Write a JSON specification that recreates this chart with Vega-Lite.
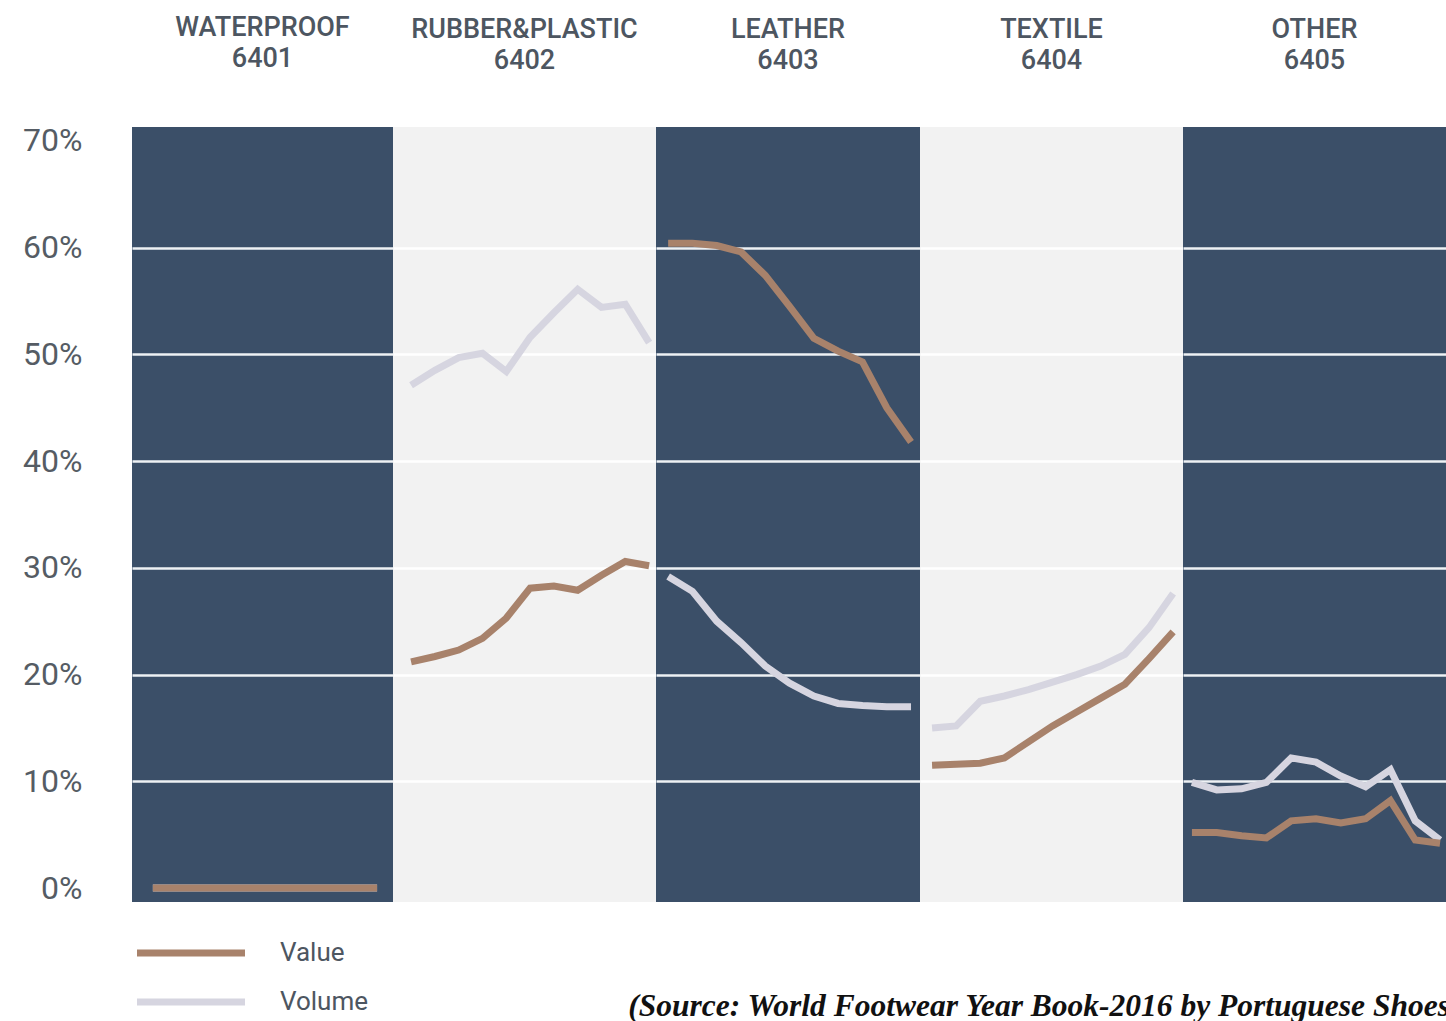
{
  "$schema": "https://vega.github.io/schema/vega-lite/v6.json",
  "background": "#ffffff",
  "padding": {"left": 0, "top": 13, "right": 0, "bottom": 0},
  "spacing": 0,
  "bounds": "flush",
  "datasets": {
    "shoes": [
      {"category": "WATERPROOF", "series": "Volume", "year": 2005, "share": 0},
      {"category": "WATERPROOF", "series": "Volume", "year": 2015, "share": 0},
      {"category": "WATERPROOF", "series": "Value", "year": 2005, "share": 0},
      {"category": "WATERPROOF", "series": "Value", "year": 2006, "share": 0},
      {"category": "WATERPROOF", "series": "Value", "year": 2007, "share": 0},
      {"category": "WATERPROOF", "series": "Value", "year": 2008, "share": 0},
      {"category": "WATERPROOF", "series": "Value", "year": 2009, "share": 0},
      {"category": "WATERPROOF", "series": "Value", "year": 2010, "share": 0},
      {"category": "WATERPROOF", "series": "Value", "year": 2011, "share": 0},
      {"category": "WATERPROOF", "series": "Value", "year": 2012, "share": 0},
      {"category": "WATERPROOF", "series": "Value", "year": 2013, "share": 0},
      {"category": "WATERPROOF", "series": "Value", "year": 2014, "share": 0},
      {"category": "WATERPROOF", "series": "Value", "year": 2015, "share": 0},

      {"category": "RUBBER&PLASTIC", "series": "Volume", "year": 2005, "share": 0.471},
      {"category": "RUBBER&PLASTIC", "series": "Volume", "year": 2006, "share": 0.485},
      {"category": "RUBBER&PLASTIC", "series": "Volume", "year": 2007, "share": 0.497},
      {"category": "RUBBER&PLASTIC", "series": "Volume", "year": 2008, "share": 0.501},
      {"category": "RUBBER&PLASTIC", "series": "Volume", "year": 2009, "share": 0.484},
      {"category": "RUBBER&PLASTIC", "series": "Volume", "year": 2010, "share": 0.516},
      {"category": "RUBBER&PLASTIC", "series": "Volume", "year": 2011, "share": 0.539},
      {"category": "RUBBER&PLASTIC", "series": "Volume", "year": 2012, "share": 0.561},
      {"category": "RUBBER&PLASTIC", "series": "Volume", "year": 2013, "share": 0.544},
      {"category": "RUBBER&PLASTIC", "series": "Volume", "year": 2014, "share": 0.547},
      {"category": "RUBBER&PLASTIC", "series": "Volume", "year": 2015, "share": 0.511},
      {"category": "RUBBER&PLASTIC", "series": "Value", "year": 2005, "share": 0.212},
      {"category": "RUBBER&PLASTIC", "series": "Value", "year": 2006, "share": 0.217},
      {"category": "RUBBER&PLASTIC", "series": "Value", "year": 2007, "share": 0.223},
      {"category": "RUBBER&PLASTIC", "series": "Value", "year": 2008, "share": 0.234},
      {"category": "RUBBER&PLASTIC", "series": "Value", "year": 2009, "share": 0.253},
      {"category": "RUBBER&PLASTIC", "series": "Value", "year": 2010, "share": 0.281},
      {"category": "RUBBER&PLASTIC", "series": "Value", "year": 2011, "share": 0.283},
      {"category": "RUBBER&PLASTIC", "series": "Value", "year": 2012, "share": 0.279},
      {"category": "RUBBER&PLASTIC", "series": "Value", "year": 2013, "share": 0.293},
      {"category": "RUBBER&PLASTIC", "series": "Value", "year": 2014, "share": 0.306},
      {"category": "RUBBER&PLASTIC", "series": "Value", "year": 2015, "share": 0.302},

      {"category": "LEATHER", "series": "Volume", "year": 2005, "share": 0.292},
      {"category": "LEATHER", "series": "Volume", "year": 2006, "share": 0.278},
      {"category": "LEATHER", "series": "Volume", "year": 2007, "share": 0.250},
      {"category": "LEATHER", "series": "Volume", "year": 2008, "share": 0.230},
      {"category": "LEATHER", "series": "Volume", "year": 2009, "share": 0.208},
      {"category": "LEATHER", "series": "Volume", "year": 2010, "share": 0.192},
      {"category": "LEATHER", "series": "Volume", "year": 2011, "share": 0.180},
      {"category": "LEATHER", "series": "Volume", "year": 2012, "share": 0.173},
      {"category": "LEATHER", "series": "Volume", "year": 2013, "share": 0.171},
      {"category": "LEATHER", "series": "Volume", "year": 2014, "share": 0.170},
      {"category": "LEATHER", "series": "Volume", "year": 2015, "share": 0.170},
      {"category": "LEATHER", "series": "Value", "year": 2005, "share": 0.604},
      {"category": "LEATHER", "series": "Value", "year": 2006, "share": 0.604},
      {"category": "LEATHER", "series": "Value", "year": 2007, "share": 0.602},
      {"category": "LEATHER", "series": "Value", "year": 2008, "share": 0.596},
      {"category": "LEATHER", "series": "Value", "year": 2009, "share": 0.574},
      {"category": "LEATHER", "series": "Value", "year": 2010, "share": 0.545},
      {"category": "LEATHER", "series": "Value", "year": 2011, "share": 0.515},
      {"category": "LEATHER", "series": "Value", "year": 2012, "share": 0.503},
      {"category": "LEATHER", "series": "Value", "year": 2013, "share": 0.493},
      {"category": "LEATHER", "series": "Value", "year": 2014, "share": 0.450},
      {"category": "LEATHER", "series": "Value", "year": 2015, "share": 0.418},

      {"category": "TEXTILE", "series": "Volume", "year": 2005, "share": 0.150},
      {"category": "TEXTILE", "series": "Volume", "year": 2006, "share": 0.152},
      {"category": "TEXTILE", "series": "Volume", "year": 2007, "share": 0.175},
      {"category": "TEXTILE", "series": "Volume", "year": 2008, "share": 0.180},
      {"category": "TEXTILE", "series": "Volume", "year": 2009, "share": 0.186},
      {"category": "TEXTILE", "series": "Volume", "year": 2010, "share": 0.193},
      {"category": "TEXTILE", "series": "Volume", "year": 2011, "share": 0.200},
      {"category": "TEXTILE", "series": "Volume", "year": 2012, "share": 0.208},
      {"category": "TEXTILE", "series": "Volume", "year": 2013, "share": 0.219},
      {"category": "TEXTILE", "series": "Volume", "year": 2014, "share": 0.244},
      {"category": "TEXTILE", "series": "Volume", "year": 2015, "share": 0.276},
      {"category": "TEXTILE", "series": "Value", "year": 2005, "share": 0.115},
      {"category": "TEXTILE", "series": "Value", "year": 2006, "share": 0.116},
      {"category": "TEXTILE", "series": "Value", "year": 2007, "share": 0.117},
      {"category": "TEXTILE", "series": "Value", "year": 2008, "share": 0.122},
      {"category": "TEXTILE", "series": "Value", "year": 2009, "share": 0.137},
      {"category": "TEXTILE", "series": "Value", "year": 2010, "share": 0.152},
      {"category": "TEXTILE", "series": "Value", "year": 2011, "share": 0.165},
      {"category": "TEXTILE", "series": "Value", "year": 2012, "share": 0.178},
      {"category": "TEXTILE", "series": "Value", "year": 2013, "share": 0.191},
      {"category": "TEXTILE", "series": "Value", "year": 2014, "share": 0.215},
      {"category": "TEXTILE", "series": "Value", "year": 2015, "share": 0.240},

      {"category": "OTHER", "series": "Volume", "year": 2005, "share": 0.099},
      {"category": "OTHER", "series": "Volume", "year": 2006, "share": 0.092},
      {"category": "OTHER", "series": "Volume", "year": 2007, "share": 0.093},
      {"category": "OTHER", "series": "Volume", "year": 2008, "share": 0.099},
      {"category": "OTHER", "series": "Volume", "year": 2009, "share": 0.122},
      {"category": "OTHER", "series": "Volume", "year": 2010, "share": 0.118},
      {"category": "OTHER", "series": "Volume", "year": 2011, "share": 0.105},
      {"category": "OTHER", "series": "Volume", "year": 2012, "share": 0.095},
      {"category": "OTHER", "series": "Volume", "year": 2013, "share": 0.111},
      {"category": "OTHER", "series": "Volume", "year": 2014, "share": 0.063},
      {"category": "OTHER", "series": "Volume", "year": 2015, "share": 0.045},
      {"category": "OTHER", "series": "Value", "year": 2005, "share": 0.052},
      {"category": "OTHER", "series": "Value", "year": 2006, "share": 0.052},
      {"category": "OTHER", "series": "Value", "year": 2007, "share": 0.049},
      {"category": "OTHER", "series": "Value", "year": 2008, "share": 0.047},
      {"category": "OTHER", "series": "Value", "year": 2009, "share": 0.063},
      {"category": "OTHER", "series": "Value", "year": 2010, "share": 0.065},
      {"category": "OTHER", "series": "Value", "year": 2011, "share": 0.061},
      {"category": "OTHER", "series": "Value", "year": 2012, "share": 0.065},
      {"category": "OTHER", "series": "Value", "year": 2013, "share": 0.082},
      {"category": "OTHER", "series": "Value", "year": 2014, "share": 0.045},
      {"category": "OTHER", "series": "Value", "year": 2015, "share": 0.042}
    ],
    "sourcenote": [
      {"note": "(Source: World Footwear Year Book-2016 by Portuguese Shoes"}
    ]
  },
  "resolve": {"scale": {"x": "independent", "y": "independent", "color": "independent"}, "legend": {"color": "independent"}},
  "hconcat": [
    {
      "width": 261, "height": 775,
      "view": {"fill": "#3b4f68", "stroke": null},
      "title": {"text": ["WATERPROOF", "6401"]},
      "data": {"name": "shoes"},
      "transform": [{"filter": "datum.category == 'WATERPROOF'"}],
      "encoding": {
        "x": {"field": "year", "type": "quantitative", "scale": {"domain": [2004.07, 2015.71], "nice": false, "zero": false}, "axis": null},
        "y": {"field": "share", "type": "quantitative", "scale": {"domain": [-0.013, 0.713], "nice": false, "zero": false},
          "axis": {"values": [0, 0.1, 0.2, 0.3, 0.4, 0.5, 0.6, 0.7], "format": ".0%", "title": null, "ticks": false, "domain": false,
            "labelFont": "Roboto", "labelFontSize": 32, "labelColor": "#555c64", "labelPadding": 50, "minExtent": 132, "maxExtent": 132,
            "grid": true, "gridColor": "#eef1f4", "gridWidth": 2.5,
            "gridOpacity": {"condition": {"test": "datum.value < 0.05 || datum.value > 0.65", "value": 0}, "value": 1}}},
        "color": {"field": "series", "type": "nominal", "scale": {"domain": ["Value", "Volume"], "range": ["#a8826b", "#d6d5e0"]},
          "legend": {"orient": "none", "legendX": 42, "legendY": 809, "direction": "vertical", "title": null,
            "symbolType": "M-4,0H4", "symbolSize": 729, "symbolStrokeWidth": 7,
            "labelFont": "Roboto", "labelFontSize": 26, "labelColor": "#4d5661", "labelOffset": 72, "rowPadding": 18}}
      },
      "layer": [
        {"transform": [{"filter": "datum.series == 'Volume'"}], "mark": {"type": "line", "strokeWidth": 7, "strokeCap": "butt"}},
        {"transform": [{"filter": "datum.series == 'Value'"}], "mark": {"type": "line", "strokeWidth": 7, "strokeCap": "butt"}}
      ]
    },
    {
      "width": 263, "height": 775,
      "view": {"fill": "#f2f2f2", "stroke": null},
      "title": {"text": ["RUBBER&PLASTIC", "6402"]},
      "data": {"name": "shoes"},
      "transform": [{"filter": "datum.category == 'RUBBER&PLASTIC'"}],
      "encoding": {
        "x": {"field": "year", "type": "quantitative", "scale": {"domain": [2004.24, 2015.29], "nice": false, "zero": false}, "axis": null},
        "y": {"field": "share", "type": "quantitative", "scale": {"domain": [-0.013, 0.713], "nice": false, "zero": false},
          "axis": {"values": [0.1, 0.2, 0.3, 0.4, 0.5, 0.6], "labels": false, "title": null, "ticks": false, "domain": false, "minExtent": 0, "maxExtent": 0,
            "grid": true, "gridColor": "#ffffff", "gridWidth": 2.5}},
        "color": {"field": "series", "type": "nominal", "scale": {"domain": ["Value", "Volume"], "range": ["#a8826b", "#d6d5e0"]}, "legend": null}
      },
      "layer": [
        {"transform": [{"filter": "datum.series == 'Volume'"}], "mark": {"type": "line", "strokeWidth": 7, "strokeCap": "butt"}},
        {"transform": [{"filter": "datum.series == 'Value'"}], "mark": {"type": "line", "strokeWidth": 7, "strokeCap": "butt"}}
      ]
    },
    {
      "width": 264, "height": 775,
      "view": {"fill": "#3b4f68", "stroke": null},
      "title": {"text": ["LEATHER", "6403"]},
      "data": {"name": "shoes"},
      "transform": [{"filter": "datum.category == 'LEATHER'"}],
      "encoding": {
        "x": {"field": "year", "type": "quantitative", "scale": {"domain": [2004.5, 2015.37], "nice": false, "zero": false}, "axis": null},
        "y": {"field": "share", "type": "quantitative", "scale": {"domain": [-0.013, 0.713], "nice": false, "zero": false},
          "axis": {"values": [0.1, 0.2, 0.3, 0.4, 0.5, 0.6], "labels": false, "title": null, "ticks": false, "domain": false, "minExtent": 0, "maxExtent": 0,
            "grid": true, "gridColor": "#eef1f4", "gridWidth": 2.5}},
        "color": {"field": "series", "type": "nominal", "scale": {"domain": ["Value", "Volume"], "range": ["#a8826b", "#d6d5e0"]}, "legend": null}
      },
      "layer": [
        {"transform": [{"filter": "datum.series == 'Volume'"}], "mark": {"type": "line", "strokeWidth": 7, "strokeCap": "butt"}},
        {"transform": [{"filter": "datum.series == 'Value'"}], "mark": {"type": "line", "strokeWidth": 7, "strokeCap": "butt"}}
      ]
    },
    {
      "width": 263, "height": 775,
      "view": {"fill": "#f2f2f2", "stroke": null},
      "title": {"text": ["TEXTILE", "6404"]},
      "data": {"name": "shoes"},
      "transform": [{"filter": "datum.category == 'TEXTILE'"}],
      "encoding": {
        "x": {"field": "year", "type": "quantitative", "scale": {"domain": [2004.5, 2015.41], "nice": false, "zero": false}, "axis": null},
        "y": {"field": "share", "type": "quantitative", "scale": {"domain": [-0.013, 0.713], "nice": false, "zero": false},
          "axis": {"values": [0.1, 0.2, 0.3, 0.4, 0.5, 0.6], "labels": false, "title": null, "ticks": false, "domain": false, "minExtent": 0, "maxExtent": 0,
            "grid": true, "gridColor": "#ffffff", "gridWidth": 2.5}},
        "color": {"field": "series", "type": "nominal", "scale": {"domain": ["Value", "Volume"], "range": ["#a8826b", "#d6d5e0"]}, "legend": null}
      },
      "layer": [
        {"transform": [{"filter": "datum.series == 'Volume'"}], "mark": {"type": "line", "strokeWidth": 7, "strokeCap": "butt"}},
        {"transform": [{"filter": "datum.series == 'Value'"}], "mark": {"type": "line", "strokeWidth": 7, "strokeCap": "butt"}}
      ]
    },
    {
      "width": 263, "height": 775,
      "view": {"fill": "#3b4f68", "stroke": null},
      "title": {"text": ["OTHER", "6405"]},
      "layer": [
        {"data": {"name": "shoes"}, "transform": [{"filter": "datum.category == 'OTHER' && datum.series == 'Volume'"}], "mark": {"type": "line", "strokeWidth": 7, "strokeCap": "butt"},
          "encoding": {
            "x": {"field": "year", "type": "quantitative", "scale": {"domain": [2004.64, 2015.24], "nice": false, "zero": false}, "axis": null},
            "y": {"field": "share", "type": "quantitative", "scale": {"domain": [-0.013, 0.713], "nice": false, "zero": false},
              "axis": {"values": [0.1, 0.2, 0.3, 0.4, 0.5, 0.6], "labels": false, "title": null, "ticks": false, "domain": false, "minExtent": 0, "maxExtent": 0,
                "grid": true, "gridColor": "#eef1f4", "gridWidth": 2.5}},
            "color": {"field": "series", "type": "nominal", "scale": {"domain": ["Value", "Volume"], "range": ["#a8826b", "#d6d5e0"]}, "legend": null}}},
        {"data": {"name": "shoes"}, "transform": [{"filter": "datum.category == 'OTHER' && datum.series == 'Value'"}], "mark": {"type": "line", "strokeWidth": 7, "strokeCap": "butt"},
          "encoding": {
            "x": {"field": "year", "type": "quantitative"},
            "y": {"field": "share", "type": "quantitative"},
            "color": {"field": "series", "type": "nominal", "legend": null}}},
        {"data": {"name": "sourcenote"},
          "mark": {"type": "text", "align": "right", "baseline": "middle", "font": "Liberation Serif", "fontStyle": "italic", "fontWeight": "bold", "fontSize": 31.5, "color": "#111111"},
          "encoding": {
            "x": {"datum": 2015.4, "type": "quantitative"},
            "y": {"datum": -0.1115, "type": "quantitative"},
            "text": {"field": "note", "type": "nominal"}
          }}
      ]
    }
  ],
  "config": {
    "view": {"stroke": null},
    "title": {"font": "Roboto", "fontSize": 27, "fontWeight": 500, "color": "#4d5661", "lineHeight": 31, "offset": 52, "anchor": "middle"}
  }
}
